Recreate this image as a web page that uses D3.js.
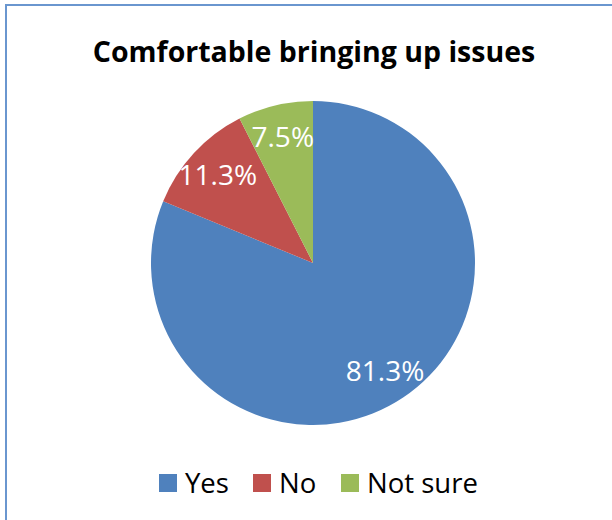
<!DOCTYPE html>
<html>
<head>
<meta charset="utf-8">
<script src="https://cdn.jsdelivr.net/npm/d3@7"></script>
<style>
  body { margin: 0; background: #fff; }
  svg { display: block; }
</style>
</head>
<body>
<svg id="chart"></svg>
<script>
const width = 612, height = 520;

const categories = ["Yes", "No", "Not sure"];
const values = [81.3, 11.3, 7.5];
const colors = ["#4f81bd", "#c0504d", "#9bbb59"];
const title = "Comfortable bringing up issues";

const cx = 313, cy = 263, radius = 162;
const font = "'Open Sans', Lato, sans-serif";

const svg = d3.select("#chart")
              .attr("width", width)
              .attr("height", height);

// chart border, runs off the right and bottom
svg.append("rect")
   .attr("x", 6)
   .attr("y", 5)
   .attr("width", 700)
   .attr("height", 600)
   .attr("fill", "#fff")
   .attr("stroke", "#6a96cf")
   .attr("stroke-width", 2);

svg.append("text")
   .attr("x", cx + 1)
   .attr("y", 62)
   .attr("text-anchor", "middle")
   .style("font-family", font)
   .style("font-weight", "bold")
   .style("font-size", "28.5px")
   .attr("fill", "#000")
   .text(title);

const pie = d3.pie().sort(null).value(d => d);
const arcs = pie(values);

const arc = d3.arc().innerRadius(0).outerRadius(radius);
const labelArc = d3.arc().innerRadius(radius * 0.8).outerRadius(radius * 0.8);

const g = svg.append("g")
             .attr("transform", `translate(${cx},${cy})`);

g.selectAll("path")
 .data(arcs)
 .enter()
 .append("path")
 .attr("d", arc)
 .attr("fill", (d, i) => colors[i]);

g.selectAll("text")
 .data(arcs)
 .enter()
 .append("text")
 .attr("transform", d => `translate(${labelArc.centroid(d)})`)
 .attr("text-anchor", "middle")
 .attr("dy", "0.35em")
 .style("font-family", font)
 .style("font-size", "28px")
 .attr("fill", "#fff")
 .text(d => d.value.toFixed(1) + "%");

// legend
const legendX = [159, 253, 341];
const legend = svg.append("g");
categories.forEach((c, i) => {
    legend.append("rect")
          .attr("x", legendX[i])
          .attr("y", 474)
          .attr("width", 18)
          .attr("height", 18)
          .attr("fill", colors[i]);
    legend.append("text")
          .attr("x", legendX[i] + 26)
          .attr("y", 493)
          .style("font-family", font)
          .style("font-size", "27.5px")
          .attr("fill", "#000")
          .text(c);
});
</script>
</body>
</html>
